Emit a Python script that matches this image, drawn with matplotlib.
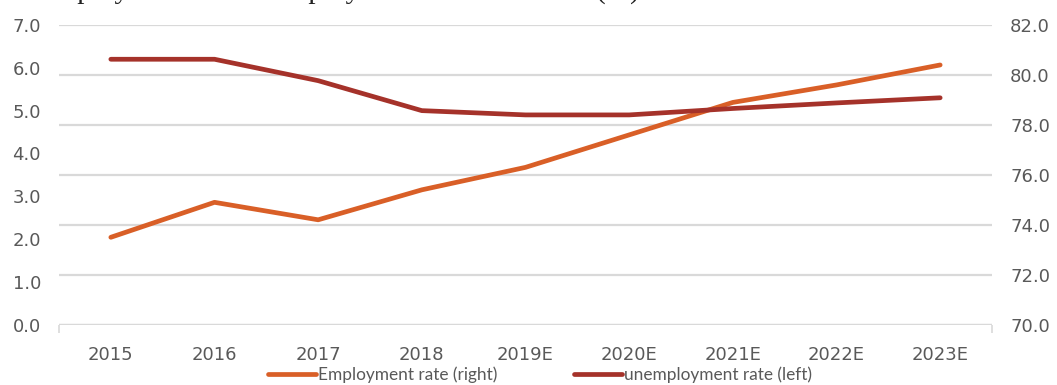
import matplotlib.pyplot as plt
from matplotlib.lines import Line2D

years = ["2015", "2016", "2017", "2018", "2019E", "2020E", "2021E", "2022E", "2023E"]
unemployment = [6.2, 6.2, 5.7, 5.0, 4.9, 4.9, 5.05, 5.18, 5.3]
employment = [73.5, 74.9, 74.2, 75.4, 76.3, 77.6, 78.9, 79.6, 80.4]

title = "Employment and unemployment rate in Ireland (%)"
left_ticks = [0, 1, 2, 3, 4, 5, 6, 7]
right_ticks = [70, 72, 74, 76, 78, 80, 82]

c_emp = "#D95F27"
c_unemp = "#A5322A"
c_text = "#595959"
c_grid = "#D9D9D9"

W, H = 1057, 385
fig = plt.figure(figsize=(W / 100, H / 100), dpi=100)
ax = fig.add_axes([59 / W, 1 - 324.7 / H, (992 - 59) / W, (324.7 - 25) / H])
ax2 = ax.twinx()

x = list(range(len(years)))

# right axis carries the gridlines
ax2.set_ylim(70, 82)
ax2.set_yticks(right_ticks)
ax2.set_yticklabels([f"{v:.1f}" for v in right_ticks])
ax2.yaxis.grid(True, color=c_grid, lw=1.6)
ax2.set_axisbelow(True)

ax.set_ylim(0, 7)
ax.set_yticks(left_ticks)
ax.set_yticklabels([f"{v:.1f}" for v in left_ticks])
ax.set_xlim(-0.5, len(years) - 0.5)
ax.set_xticks(x)
ax.set_xticklabels(years)

for a in (ax, ax2):
    for s in ("left", "right", "top", "bottom"):
        a.spines[s].set_visible(False)
    a.tick_params(axis="y", length=0, labelsize=13, labelcolor=c_text, pad=13)
ax.tick_params(axis="x", length=0, labelsize=13, labelcolor=c_text, pad=15)

# category axis line with end ticks
ax.axhline(0, color=c_grid, lw=1.6, zorder=1)
ax.set_xticks([-0.5, len(years) - 0.5], minor=True)
ax.tick_params(axis="x", which="minor", length=6, width=1.2, color=c_grid)

ax.patch.set_visible(False)
ax.set_zorder(ax2.get_zorder() + 1)

ax2.plot(x, employment, color=c_emp, lw=3.4, solid_capstyle="round")
ax.plot(x, unemployment, color=c_unemp, lw=3.4, solid_capstyle="round")

handles = [
    Line2D([], [], color=c_emp, lw=3.4, solid_capstyle="round"),
    Line2D([], [], color=c_unemp, lw=3.4, solid_capstyle="round"),
]
leg = fig.legend(handles, ["Employment rate (right)", "unemployment rate (left)"],
                 loc="center", bbox_to_anchor=(540 / W, 1 - 375 / H), ncol=2,
                 frameon=False, handlelength=2.8, handletextpad=0.15,
                 columnspacing=4.4, prop={"family": "Lato", "size": 12.4})
for t in leg.get_texts():
    t.set_color(c_text)

fig.text(37 / W, 1 + 2 / H, title, family="Liberation Serif", fontsize=21,
         va="baseline", ha="left", color="#222222")

fig.savefig("out.png", dpi=100)
